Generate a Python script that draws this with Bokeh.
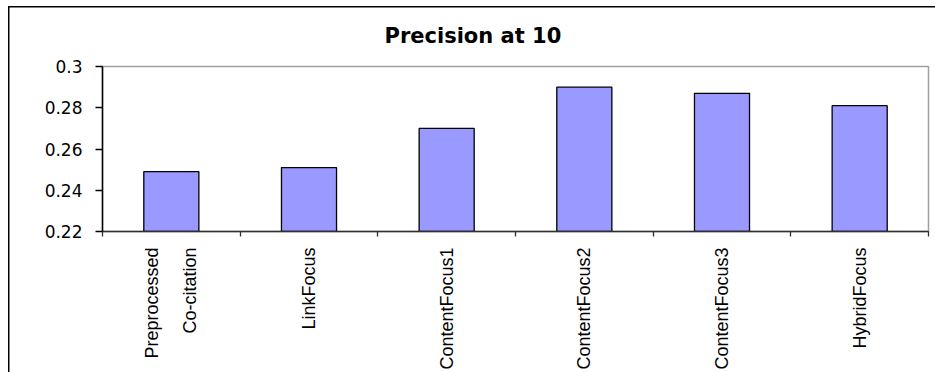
import math

from bokeh.embed import file_html
from bokeh.models import ColumnDataSource, FixedTicker, Range1d
from bokeh.plotting import figure
from bokeh.resources import INLINE

# Precision at 10 for each ranking method
categories = [
    "Preprocessed\nCo-citation",
    "LinkFocus",
    "ContentFocus1",
    "ContentFocus2",
    "ContentFocus3",
    "HybridFocus",
]
precision = [0.249, 0.251, 0.270, 0.290, 0.287, 0.281]
y_ticks = [0.22, 0.24, 0.26, 0.28, 0.30]
y_tick_labels = ["0.22", "0.24", "0.26", "0.28", "0.3"]

n = len(categories)
centers = [i + 0.5 for i in range(n)]
boundaries = list(range(n + 1))
source = ColumnDataSource(dict(x=centers, top=precision))

p = figure(
    width=935,
    height=372,
    output_backend="svg",
    toolbar_location=None,
    x_range=Range1d(0, n),
    y_range=Range1d(y_ticks[0], y_ticks[-1]),
    min_border_left=102,
    min_border_right=7,
    min_border_top=66,
    min_border_bottom=140,
)
# transparent surround so the chart-area border drawn by the page shows through
p.border_fill_color = None
p.background_fill_color = "white"
p.styles = {
    "background-color": "white",
    "box-shadow": "inset 8px 6px 0 0 white, inset 9.5px 7.5px 0 0 black",
}
p.outline_line_color = "#A0A0A0"
p.outline_line_width = 1.5
p.xgrid.visible = False
p.ygrid.visible = False

p.vbar(x="x", top="top", bottom=y_ticks[0], width=0.4, source=source,
       fill_color="#9999FF", line_color="black", line_width=1.3)

# title
p.title.text = "Precision at 10"
p.title.align = "left"
p.title.offset = 282
p.title.standoff = 38
p.title.text_font = "DejaVu Sans"
p.title.text_font_style = "bold"
p.title.text_font_size = "21px"
p.title.text_color = "black"

# y axis
ya = p.yaxis[0]
ya.ticker = FixedTicker(ticks=y_ticks)
ya.major_label_overrides = dict(zip(y_ticks, y_tick_labels))
ya.major_tick_out = 7
ya.major_tick_in = 0
ya.minor_tick_out = 0
ya.minor_tick_in = 0
ya.major_label_standoff = 13
ya.major_label_text_font = "DejaVu Sans"
ya.major_label_text_font_size = "17px"
ya.major_label_text_color = "black"
ya.axis_line_color = "black"
ya.axis_line_width = 1.5
ya.major_tick_line_color = "black"
ya.major_tick_line_width = 1.3

# x axis: names at the bar centres, tick marks on the category boundaries
xa = p.xaxis[0]
xa.ticker = FixedTicker(ticks=centers, minor_ticks=boundaries)
xa.major_label_overrides = dict(zip(centers, categories))
xa.major_label_orientation = math.pi / 2
xa.major_label_standoff = 11
xa.major_label_text_font = "Liberation Sans"
xa.major_label_text_font_size = "18px"
xa.major_label_text_line_height = 1.9
xa.major_label_text_color = "black"
xa.major_tick_out = 0
xa.major_tick_in = 0
xa.minor_tick_out = 5
xa.minor_tick_in = 0
xa.axis_line_color = "#303030"
xa.axis_line_width = 1.5
xa.minor_tick_line_color = "#303030"
xa.minor_tick_line_width = 1.3

open("out.html", "w").write(file_html(p, INLINE))
